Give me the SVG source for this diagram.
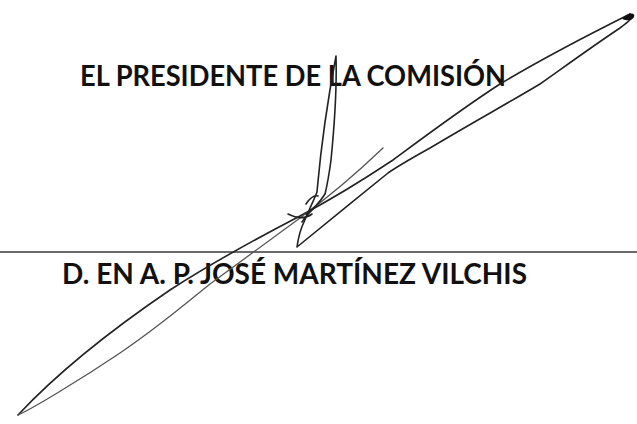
<svg xmlns="http://www.w3.org/2000/svg" width="637" height="424" viewBox="0 0 637 424">
<style>
.t{font-family:Lato,"Open Sans","Liberation Sans",sans-serif;font-weight:bold;font-size:29px;fill:#111}
.ink{fill:none;stroke:#222;stroke-width:1.6;stroke-linecap:round;stroke-linejoin:round}
.ink2{fill:none;stroke:#555;stroke-width:1.3;stroke-linecap:round;stroke-linejoin:round}
</style>
<rect width="637" height="424" fill="#fff"/>
<g id="title">
<text class="t" x="80" y="86" textLength="426" lengthAdjust="spacingAndGlyphs">EL PRESIDENTE DE LA COMISIÓN</text>
</g>
<g id="rule">
<line x1="0" y1="252" x2="637" y2="252" stroke="#3a3a3a" stroke-width="1.5"/>
</g>
<g id="name">
<text class="t" x="62" y="284" textLength="465" lengthAdjust="spacingAndGlyphs">D. EN A. P. JOSÉ MARTÍNEZ VILCHIS</text>
</g>
<g id="signature">
<path class="ink" d="M630,14 C590,34 540,60 500,84 C460,110 420,140 393,160 C360,182 330,200 300,216 C250,242 210,264 170,290 C120,324 60,370 18,415"/>
<path class="ink2" d="M18,415 C30,410 80,380 120,353 C160,326 190,300 210,284 C240,262 270,240 300,218 C330,196 360,170 383,148"/>
<path class="ink" d="M630,14 C636,16 628,22 620,28 C590,48 560,70 540,84 C510,102 470,124 430,148 C412,158 398,166 388,173 C360,196 320,228 297,247 C298,240 300,230 304,222 C308,212 314,200 317,192 C319,170 322,130 336,56 C337,90 334,130 331,160 C329,175 327,186 325,194 C320,202 312,210 306,214"/>
<path class="ink" d="M288,214 C296,218 304,220 312,214 M306,204 C310,198 314,195 318,196 M302,222 C306,216 310,212 314,208"/>
<path d="M622,19 C628,12 636,12 634,17 C632,21 627,21 622,19 Z" fill="#111"/>
</g>
</svg>
